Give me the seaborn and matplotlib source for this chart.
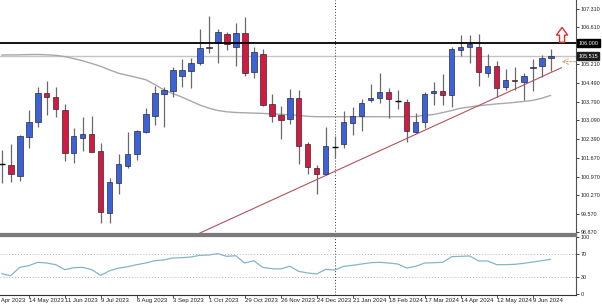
import numpy as np
import pandas as pd
import matplotlib
matplotlib.use("Agg")
import matplotlib.pyplot as plt
import matplotlib.transforms as mtransforms
from matplotlib.patches import Polygon
import seaborn as sns

# ---------------- data ----------------
dates = pd.date_range("2023-04-23", periods=62, freq="7D")
opens = [101.436, 101.409, 101.006, 102.454, 103.020, 104.137, 103.986, 103.484, 101.851, 102.439,
         102.567, 101.937, 99.610, 100.730, 101.383, 101.813, 102.654, 103.269, 104.087, 104.212,
         104.778, 104.966, 105.246, 105.872, 106.000, 106.339, 105.872, 106.377, 104.929, 105.596,
         103.699, 103.284, 103.133, 103.925, 102.190, 101.285, 101.058, 102.100, 102.201, 103.005,
         103.269, 103.861, 103.948, 104.174, 103.823, 103.774, 102.643, 103.020, 104.114, 104.201,
         104.050, 105.747, 105.860, 105.872, 104.868, 105.155, 104.340, 104.627, 104.551, 105.057,
         105.155, 105.457]
highs = [101.975, 102.190, 102.540, 103.484, 104.340, 104.589, 104.340, 103.699, 102.794, 103.231,
         103.269, 102.228, 100.908, 101.824, 102.643, 102.730, 103.571, 104.389, 104.363, 105.095,
         105.408, 105.434, 106.528, 107.041, 106.539, 106.438, 106.754, 106.981, 105.872, 105.785,
         104.076, 103.635, 104.265, 104.238, 102.288, 101.409, 102.831, 102.503, 103.435, 103.586,
         103.888, 104.453, 104.868, 104.303, 104.238, 103.899, 103.359, 104.174, 104.529, 104.842,
         105.872, 106.313, 106.313, 106.351, 105.596, 105.344, 105.031, 105.117, 104.891, 105.408,
         105.559, 105.774]
lows = [100.742, 100.757, 100.806, 102.039, 102.831, 103.295, 103.231, 101.571, 101.473, 101.937,
        101.888, 99.233, 99.210, 100.304, 101.285, 101.598, 102.620, 102.918, 102.854, 103.963,
        104.363, 104.325, 105.181, 105.645, 105.268, 105.747, 105.144, 104.766, 104.680, 103.650,
        103.043, 102.379, 102.956, 101.447, 101.070, 100.304, 101.040, 101.662, 102.039, 102.540,
        102.703, 103.797, 103.737, 103.171, 103.510, 102.288, 102.605, 102.816, 103.673, 103.673,
        103.608, 105.532, 105.246, 104.389, 104.717, 103.963, 104.238, 104.238, 103.861, 104.212,
        104.717, 104.966]
closes = [101.436, 101.058, 102.514, 103.043, 104.137, 103.963, 103.522, 101.851, 102.503, 102.579,
          101.911, 99.648, 100.779, 101.447, 101.813, 102.703, 103.322, 104.114, 104.238, 104.993,
          104.982, 105.268, 105.834, 105.823, 106.415, 105.962, 106.377, 104.891, 105.660, 103.673,
          103.269, 103.107, 103.948, 102.137, 101.345, 101.058, 102.137, 102.100, 103.020, 103.269,
          103.759, 103.925, 104.152, 103.888, 103.823, 102.692, 103.043, 104.076, 104.201, 104.050,
          105.785, 105.849, 105.962, 104.929, 105.155, 104.325, 104.616, 104.567, 104.766, 105.117,
          105.457, 105.515]
ma = [105.559, 105.562, 105.566, 105.574, 105.578, 105.566, 105.547, 105.498, 105.423, 105.340,
      105.238, 105.132, 104.993, 104.868, 104.789, 104.710, 104.627, 104.446, 104.246, 104.106,
      103.974, 103.823, 103.673, 103.556, 103.465, 103.416, 103.390, 103.378, 103.367, 103.356,
      103.337, 103.322, 103.303, 103.280, 103.246, 103.231, 103.231, 103.231, 103.231, 103.231,
      103.231, 103.231, 103.231, 103.231, 103.231, 103.231, 103.239, 103.284, 103.314, 103.386,
      103.465, 103.552, 103.597, 103.646, 103.680, 103.714, 103.740, 103.771, 103.808, 103.846,
      103.925, 104.035]
rsi = [35.3, 31.8, 46.5, 49.4, 55.4, 54.1, 51.2, 42.4, 45.9, 46.5,
       42.4, 32.4, 40.6, 45.3, 47.6, 51.2, 54.1, 58.2, 59.4, 63.0,
       63.5, 64.7, 67.6, 68.2, 70.6, 65.9, 67.0, 54.1, 58.2, 46.5,
       44.1, 43.6, 48.5, 39.5, 36.5, 34.8, 43.0, 41.8, 48.3, 50.1,
       52.4, 54.7, 55.4, 54.1, 52.4, 45.3, 48.3, 54.1, 54.7, 55.4,
       65.3, 65.9, 66.5, 57.7, 57.7, 51.2, 51.2, 51.8, 53.6, 55.9,
       58.2, 60.6]
price_ticks = [107.310, 106.610, 105.910, 105.210, 104.490, 103.790, 103.090,
               102.390, 101.670, 100.970, 100.270, 99.570, 98.870]
rsi_ticks = [100, 70, 30, 0]
rsi_levels = [70, 30]
resistance = 106.000
last_price = 105.515
trend_bars = [22.0, 62.2]
trend_prices = [98.84, 105.08]
separator_bar = 37
label_bars = list(range(-1, 62, 4))

# ---------------- style ----------------
sns.set_style("white")
plt.rcParams["font.family"] = ["Liberation Sans", "DejaVu Sans"]

W, H = 602, 305
fig = plt.figure(figsize=(W / 100, H / 100), dpi=100)
ax = fig.add_axes([0, (H - 234) / H, 576 / W, 234 / H])
ax2 = fig.add_axes([0, (H - 295) / H, 576 / W, 59 / H])

idx = np.arange(len(dates))
xlim = (-0.19, 63.81)

BLUE = "#3b62d9"
RED = "#d41a3e"
EDGE = "#2a2a3a"
WICK = "#6a6a6a"

# wicks
ax.vlines(idx, lows, highs, color=WICK, lw=0.9, zorder=2)
# bodies
o = np.array(opens); c = np.array(closes)
bottoms = np.minimum(o, c)
heights = np.abs(c - o)
doji = heights < 0.01
cols = np.where(c >= o, BLUE, RED)
ax.bar(idx[~doji], heights[~doji], bottom=bottoms[~doji], width=0.62,
       color=cols[~doji], edgecolor=EDGE, linewidth=0.5, zorder=3)
ax.hlines(c[doji], idx[doji] - 0.33, idx[doji] + 0.33, color="black", lw=1.0, zorder=3)

# moving average
sns.lineplot(x=idx, y=ma, ax=ax, color="#a8a8a8", lw=1.0, zorder=1)
# trend line
ax.plot(trend_bars, trend_prices, color="#b5525a", lw=0.8, zorder=1.5)
# horizontal lines
ax.axhline(resistance, color="black", lw=1.3, zorder=4)
ax.axhline(last_price, color="#c4c4c4", lw=1.0, zorder=0.5)
# separators
for a in (ax, ax2):
    a.axvline(separator_bar, color="#333333", lw=0.7, ls=(0, (1, 2)), zorder=0.8)

ax.set_xlim(*xlim)
ax.set_ylim(98.806, 107.633)

# up arrow (hollow red)
ab, abase, atip = 62.26, 106.04, 106.60
hw, sw = 0.62, 0.28
hb = abase + (atip - abase) * 0.48
arrow = Polygon([[ab - sw, abase], [ab + sw, abase], [ab + sw, hb], [ab + hw, hb],
                 [ab, atip], [ab - hw, hb], [ab - sw, hb]], closed=True,
                facecolor="white", edgecolor="#e0302a", lw=1.0, zorder=6, clip_on=False)
ax.add_patch(arrow)
# dashed left arrow near price
ax.annotate("", xy=(62.2, 105.31), xytext=(63.8, 105.31),
            arrowprops=dict(arrowstyle="->", color="#e0a77a", lw=0.8, ls=(0, (2, 1.5)),
                            shrinkA=0, shrinkB=0), annotation_clip=False, zorder=6)

# spines
for a in (ax, ax2):
    a.spines["left"].set_visible(False)
    a.spines["right"].set_color("#505050")
    a.spines["right"].set_linewidth(0.8)
    a.set_facecolor("white")
ax.spines["top"].set_visible(False)
ax.spines["bottom"].set_color("#7a7a7a")
ax.spines["bottom"].set_linewidth(1.6)
ax2.spines["top"].set_color("#7a7a7a")
ax2.spines["top"].set_linewidth(1.6)
ax2.spines["bottom"].set_color("#333333")
ax2.spines["bottom"].set_linewidth(0.8)

# price axis
ax.yaxis.tick_right()
ax.set_yticks(price_ticks)
ax.set_yticklabels([f"{v:.3f}" for v in price_ticks])
ax.tick_params(axis="y", right=True, length=2, width=0.6, pad=1.5, labelsize=3.9,
               colors="#222222")
ax.set_xticks([])
ax.set_xlabel(""); ax.set_ylabel("")
ytr = ax.get_yaxis_transform()
for val, face in ((resistance, "black"), (last_price, "#1e1e1e")):
    ax.text(1.0 + 2.5 / 576, val, f"{val:.3f}", transform=ytr, ha="left", va="center",
            fontsize=3.9, color="white", zorder=10,
            bbox=dict(boxstyle="square,pad=0.25", facecolor=face, edgecolor=face))

# RSI panel
sns.lineplot(x=idx, y=rsi, ax=ax2, color="#84b4cc", lw=0.9)
for lv in rsi_levels:
    ax2.axhline(lv, color="#b4b4b4", lw=0.7, ls=(0, (1, 2)))
ax2.set_xlim(*xlim)
ax2.set_ylim(-2.2, 101.7)
ax2.yaxis.tick_right()
ax2.set_yticks(rsi_ticks)
ax2.set_yticklabels([str(v) for v in rsi_ticks])
ax2.tick_params(axis="y", right=True, length=2, width=0.6, pad=1.5, labelsize=3.9,
                colors="#222222")
vis_ticks = [b for b in label_bars if b >= 0]
ax2.set_xticks(vis_ticks)
ax2.set_xticklabels([])
ax2.tick_params(axis="x", bottom=True, length=2, width=0.6, colors="#333333")
ax2.set_xlabel(""); ax2.set_ylabel("")
xtr = mtransforms.blended_transform_factory(ax2.transData, ax2.transAxes)
for b in label_bars:
    d = dates[0] + pd.Timedelta(weeks=b)
    ax2.text(b, -5.2 / 59, f"{d.day} {d:%b %Y}", transform=xtr, ha="left", va="center",
             fontsize=4.3, color="#222222", clip_on=False)

fig.savefig("out.png", dpi=100)
